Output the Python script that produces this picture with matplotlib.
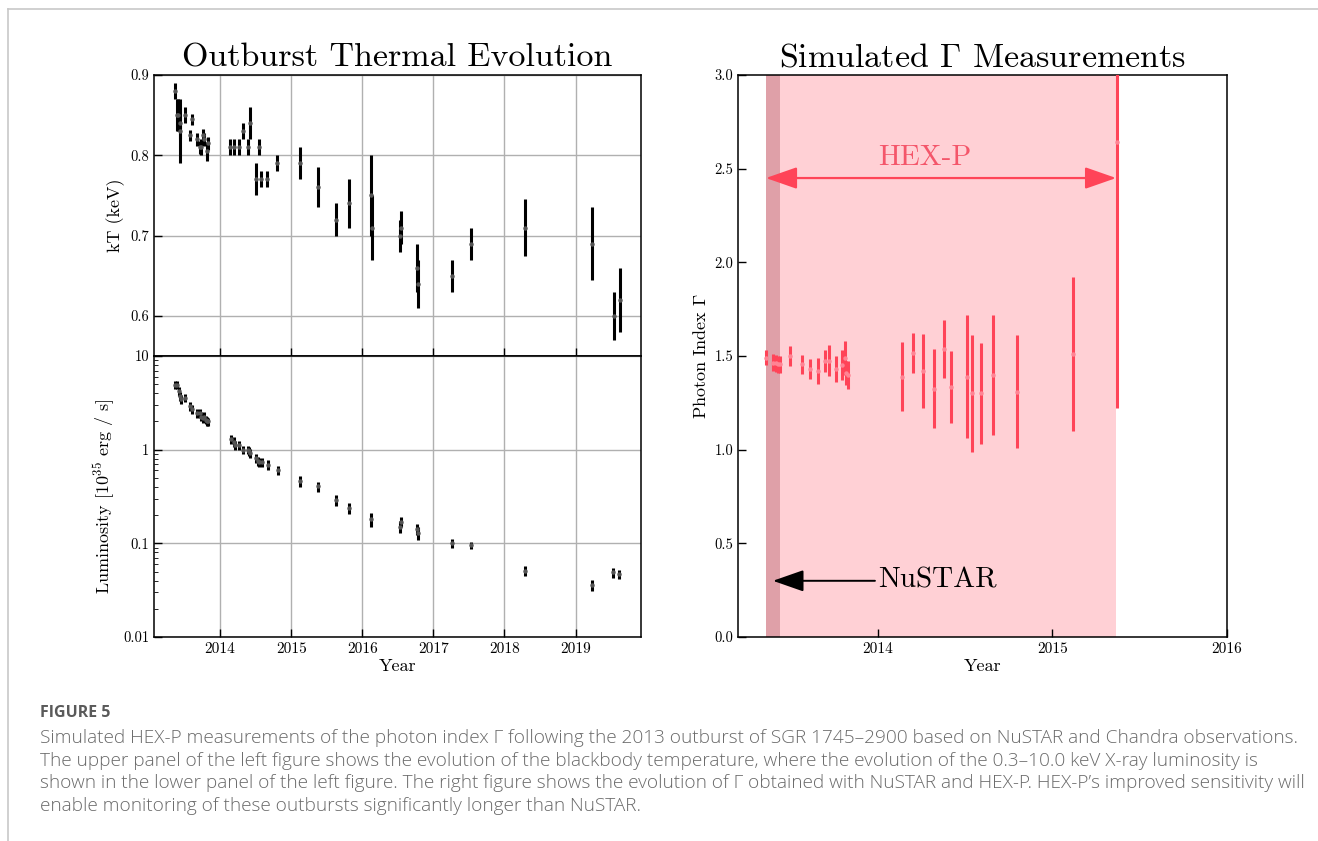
import matplotlib
matplotlib.use("Agg")
import matplotlib.pyplot as plt
from matplotlib.lines import Line2D
from matplotlib.ticker import FixedLocator, FuncFormatter, LogLocator, NullFormatter

plt.rcParams["font.family"] = "serif"
plt.rcParams["font.serif"] = ["cmr10"]
plt.rcParams["mathtext.fontset"] = "cm"
plt.rcParams["axes.formatter.use_mathtext"] = True

# blackbody temperature (upper left)
kt_year = [2013.36, 2013.39, 2013.41, 2013.43, 2013.44, 2013.50, 2013.57, 2013.61, 2013.67, 2013.71,
           2013.73, 2013.76, 2013.78, 2013.81, 2013.83,
           2014.14, 2014.20, 2014.26, 2014.32, 2014.39, 2014.42, 2014.51, 2014.55, 2014.58, 2014.66, 2014.80,
           2015.12, 2015.37, 2015.63, 2015.81, 2016.12, 2016.13, 2016.53, 2016.55, 2016.77, 2016.79,
           2017.26, 2017.53, 2018.29, 2019.23, 2019.54, 2019.62]
kt = [0.88, 0.85, 0.85, 0.84, 0.83, 0.85, 0.825, 0.845, 0.82, 0.81, 0.81, 0.825, 0.82, 0.805, 0.815,
      0.81, 0.81, 0.81, 0.83, 0.81, 0.84, 0.77, 0.81, 0.77, 0.77, 0.79,
      0.79, 0.76, 0.72, 0.74, 0.75, 0.71, 0.70, 0.71, 0.66, 0.64, 0.65, 0.69, 0.71, 0.69, 0.60, 0.62]
kt_err = [0.01, 0.02, 0.02, 0.02, 0.04, 0.01, 0.007, 0.007, 0.008, 0.008, 0.01, 0.008, 0.008, 0.012, 0.008,
          0.01, 0.01, 0.01, 0.01, 0.01, 0.02, 0.02, 0.01, 0.01, 0.01, 0.01,
          0.02, 0.025, 0.02, 0.03, 0.05, 0.04, 0.02, 0.02, 0.03, 0.03, 0.02, 0.02, 0.035, 0.045, 0.03, 0.04]

# luminosity, 1e35 erg/s (lower left)
lum_year = [2013.36, 2013.395, 2013.42, 2013.43, 2013.45, 2013.51, 2013.57, 2013.61, 2013.675, 2013.71,
            2013.73, 2013.76, 2013.78, 2013.80, 2013.82, 2013.83,
            2014.15, 2014.20, 2014.21, 2014.26, 2014.32, 2014.39, 2014.40, 2014.42, 2014.51, 2014.53,
            2014.55, 2014.59, 2014.67, 2014.81,
            2015.12, 2015.37, 2015.63, 2015.81, 2016.12, 2016.53, 2016.545, 2016.765, 2016.79,
            2017.26, 2017.53, 2018.29, 2019.23, 2019.53, 2019.61]
lum = [4.9, 4.9, 4.2, 3.7, 3.45, 3.55, 2.9, 2.7, 2.45, 2.45, 2.25, 2.17, 2.25, 2.08, 2.03, 2.0,
       1.29, 1.22, 1.12, 1.12, 1.0, 1.0, 0.96, 0.92, 0.81, 0.75, 0.73, 0.73, 0.69, 0.60,
       0.46, 0.405, 0.29, 0.238, 0.18, 0.151, 0.171, 0.142, 0.129, 0.10, 0.095, 0.051, 0.036, 0.049, 0.047]
lum_err = [0.5, 0.5, 0.45, 0.4, 0.4, 0.35, 0.3, 0.3, 0.25, 0.25, 0.25, 0.25, 0.25, 0.22, 0.22, 0.2,
           0.14, 0.14, 0.12, 0.12, 0.1, 0.1, 0.1, 0.1, 0.09, 0.08, 0.08, 0.08, 0.08, 0.07,
           0.06, 0.05, 0.04, 0.03, 0.03, 0.022, 0.022, 0.02, 0.02, 0.01, 0.008, 0.006, 0.005, 0.006, 0.005]

# simulated photon index (right)
gam_year = [2013.36, 2013.40, 2013.42, 2013.43, 2013.44, 2013.50, 2013.565, 2013.61, 2013.66, 2013.70,
            2013.72, 2013.76, 2013.795, 2013.81, 2013.82, 2013.83,
            2014.14, 2014.20, 2014.26, 2014.32, 2014.38, 2014.42, 2014.51, 2014.54, 2014.59, 2014.66,
            2014.80, 2015.12, 2015.37]
gam = [1.49, 1.465, 1.46, 1.455, 1.455, 1.50, 1.455, 1.43, 1.42, 1.475, 1.475, 1.43, 1.45, 1.49, 1.41, 1.40,
       1.39, 1.515, 1.42, 1.325, 1.535, 1.335, 1.39, 1.30, 1.30, 1.40, 1.31, 1.51, 2.64]
gam_err = [0.04, 0.045, 0.045, 0.045, 0.045, 0.055, 0.05, 0.053, 0.067, 0.058, 0.083, 0.071, 0.08, 0.09,
           0.065, 0.075,
           0.185, 0.106, 0.2, 0.21, 0.155, 0.19, 0.33, 0.31, 0.27, 0.32, 0.30, 0.41, 1.42]

nustar_span = (2013.36, 2013.44)
hexp_span = (2013.36, 2015.365)

left_years = [2014, 2015, 2016, 2017, 2018, 2019]
right_years = [2014, 2015, 2016]

caption_head = "FIGURE 5"
caption_lines = [
    "Simulated HEX-P measurements of the photon index \u0393 following the 2013 outburst of SGR 1745\u20132900 based on NuSTAR and Chandra observations.",
    "The upper panel of the left figure shows the evolution of the blackbody temperature, where the evolution of the 0.3\u201310.0 keV X-ray luminosity is",
    "shown in the lower panel of the left figure. The right figure shows the evolution of \u0393 obtained with NuSTAR and HEX-P. HEX-P\u2019s improved sensitivity will",
    "enable monitoring of these outbursts significantly longer than NuSTAR.",
]

red = "#ff4458"
grid_kw = dict(color="#b0b0b0", lw=1.0)

fig = plt.figure(figsize=(13.18, 8.41), dpi=100)
W, H = 1318, 841


def box(x0, y0, x1, y1):
    return [x0 / W, 1 - y1 / H, (x1 - x0) / W, (y1 - y0) / H]


ax_kt = fig.add_axes(box(154, 75, 641, 356))
ax_lum = fig.add_axes(box(154, 356, 641, 637), sharex=ax_kt)
ax_g = fig.add_axes(box(738, 75, 1227, 637))

for ax in (ax_kt, ax_lum, ax_g):
    ax.tick_params(direction="in", length=6, width=1, labelsize=10.5)
    ax.tick_params(axis="x", labelsize=11)
    for s in ax.spines.values():
        s.set_linewidth(1.1)

err_kw = dict(fmt="o", ms=3.2, elinewidth=2.2, capsize=0, mew=0)

# upper left
ax_kt.errorbar(kt_year, kt, yerr=kt_err, color="k", mfc="#555555", **err_kw)
ax_kt.set_xlim(2013.07, 2019.92)
ax_kt.set_ylim(0.55, 0.9)
ax_kt.yaxis.set_major_locator(FixedLocator([0.6, 0.7, 0.8, 0.9]))
ax_kt.yaxis.set_major_formatter(FuncFormatter(lambda v, p: f"{v:.1f}"))
ax_kt.xaxis.set_major_locator(FixedLocator(left_years))
ax_kt.grid(True, **grid_kw)
ax_kt.set_axisbelow(True)
plt.setp(ax_kt.get_xticklabels(), visible=False)
ax_kt.set_ylabel("kT (keV)", fontsize=13)
ax_kt.set_title("Outburst Thermal Evolution", fontsize=24.5, pad=6)

# lower left
ax_lum.errorbar(lum_year, lum, yerr=lum_err, color="k", mfc="#555555", **err_kw)
ax_lum.set_yscale("log")
ax_lum.set_ylim(0.01, 10)
ax_lum.yaxis.set_major_locator(FixedLocator([0.01, 0.1, 1, 10]))
ax_lum.yaxis.set_major_formatter(FuncFormatter(lambda v, p: f"{v:g}"))
ax_lum.yaxis.set_minor_locator(LogLocator(base=10, subs=range(2, 10)))
ax_lum.yaxis.set_minor_formatter(NullFormatter())
ax_lum.tick_params(which="minor", direction="in", length=3)
ax_lum.xaxis.set_major_formatter(FuncFormatter(lambda v, p: f"{int(round(v))}"))
ax_lum.grid(True, which="major", **grid_kw)
ax_lum.set_axisbelow(True)
ax_lum.set_ylabel("Luminosity [$10^{35}$ erg / s]", fontsize=13)
ax_lum.set_xlabel("Year", fontsize=13, labelpad=2)

# right
ax_g.axvspan(*hexp_span, color="#ffd0d5", lw=0, zorder=0)
ax_g.axvspan(*nustar_span, color="#dfa0a8", lw=0, zorder=0.5)
ax_g.errorbar(gam_year, gam, yerr=gam_err, color=red, mfc="#ff8494", zorder=3, **err_kw)
ax_g.set_xlim(2013.2, 2016.0)
ax_g.set_ylim(0, 3.0)
ax_g.yaxis.set_major_locator(FixedLocator([0, 0.5, 1.0, 1.5, 2.0, 2.5, 3.0]))
ax_g.yaxis.set_major_formatter(FuncFormatter(lambda v, p: f"{v:.1f}"))
ax_g.xaxis.set_major_locator(FixedLocator(right_years))
ax_g.xaxis.set_major_formatter(FuncFormatter(lambda v, p: f"{int(round(v))}"))
ax_g.set_ylabel(r"Photon Index $\Gamma$", fontsize=13)
ax_g.set_xlabel("Year", fontsize=13, labelpad=2)
ax_g.set_title(r"Simulated $\Gamma$ Measurements", fontsize=24.5, pad=6)

ax_g.annotate("", xy=(hexp_span[0], 2.45), xytext=(hexp_span[1], 2.45),
              arrowprops=dict(arrowstyle="<|-|>,head_length=0.8,head_width=0.28", color=red, lw=1.6,
                              mutation_scale=24, shrinkA=0, shrinkB=0), zorder=4)
ax_g.text(2014.27, 2.56, "HEX-P", color="#f4566a", fontsize=21, ha="center", va="center")
ax_g.annotate("NuSTAR", xy=(2013.4, 0.3), xytext=(2014.0, 0.3), fontsize=21, va="center", ha="left",
              arrowprops=dict(arrowstyle="-|>,head_length=0.8,head_width=0.28", color="k", lw=1.4,
                              mutation_scale=24, shrinkA=0, shrinkB=0), zorder=4)

# page frame and caption
fig.add_artist(Line2D([8 / W, 1], [1 - 9 / H, 1 - 9 / H], color="#c8c8c8", lw=1.2))
fig.add_artist(Line2D([8 / W, 8 / W], [0, 1 - 9 / H], color="#c8c8c8", lw=1.2))
fig.text(40 / W, 1 - 713 / H, caption_head, family="Open Sans", fontsize=11.5, fontweight="bold",
         color="#5a5a5a", va="center", ha="left")
for i, line in enumerate(caption_lines):
    fig.text(40 / W, 1 - (738 + 22.6 * i) / H, line, family="Open Sans", fontsize=13.7,
             fontweight="light", color="#6a6a6a", va="center", ha="left")

fig.savefig("out.png", dpi=100)
